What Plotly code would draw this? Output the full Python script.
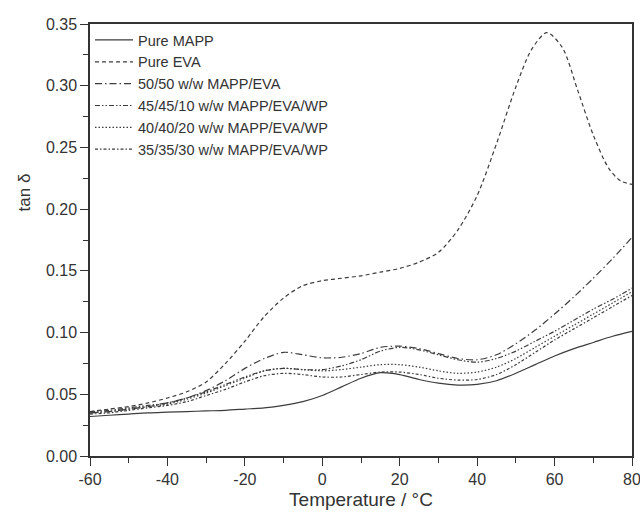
import plotly.graph_objects as go

# ---- data ----
temp = [-60, -55, -50, -45, -40, -35, -30, -25, -20, -15, -10, -5, 0, 5, 10,
        15, 20, 25, 30, 35, 40, 45, 50, 55, 60, 65, 70, 75, 80]

pure_mapp = [0.032, 0.033, 0.034, 0.035, 0.0355, 0.036, 0.0365, 0.037, 0.038, 0.039,
             0.041, 0.044, 0.049, 0.056, 0.063, 0.0675, 0.066, 0.062, 0.059, 0.0575,
             0.058, 0.061, 0.067, 0.074, 0.081, 0.087, 0.092, 0.097, 0.101]

eva_temp = [-60, -55, -50, -45, -40, -35, -30, -25, -20, -15, -10, -5, 0, 5, 10, 15,
            20, 25, 30, 35, 40, 45, 50, 54, 58, 62, 66, 70, 74, 77, 80]
pure_eva = [0.036, 0.038, 0.040, 0.043, 0.047, 0.052, 0.060, 0.075, 0.093, 0.113,
            0.128, 0.138, 0.142, 0.144, 0.146, 0.149, 0.152, 0.157, 0.165, 0.183,
            0.211, 0.253, 0.299, 0.329, 0.343, 0.331, 0.296, 0.260, 0.233, 0.223, 0.220]

mapp_eva_50 = [0.035, 0.036, 0.038, 0.040, 0.043, 0.047, 0.053, 0.061, 0.071, 0.079,
               0.084, 0.082, 0.0795, 0.080, 0.083, 0.088, 0.089, 0.087, 0.083, 0.079,
               0.078, 0.082, 0.091, 0.102, 0.115, 0.129, 0.144, 0.160, 0.177]

wp_10 = [0.036, 0.037, 0.039, 0.041, 0.043, 0.047, 0.052, 0.058, 0.064, 0.069,
         0.071, 0.070, 0.070, 0.073, 0.078, 0.085, 0.088, 0.086, 0.082, 0.078,
         0.076, 0.079, 0.085, 0.093, 0.101, 0.110, 0.119, 0.127, 0.136]

wp_20 = [0.035, 0.036, 0.038, 0.040, 0.042, 0.046, 0.051, 0.057, 0.063, 0.069,
         0.071, 0.070, 0.069, 0.070, 0.072, 0.074, 0.074, 0.072, 0.069, 0.067,
         0.068, 0.072, 0.079, 0.088, 0.097, 0.106, 0.115, 0.124, 0.133]

wp_30 = [0.034, 0.035, 0.037, 0.039, 0.041, 0.044, 0.049, 0.054, 0.060, 0.065,
         0.067, 0.066, 0.064, 0.064, 0.066, 0.068, 0.068, 0.066, 0.063, 0.0615,
         0.062, 0.066, 0.074, 0.084, 0.094, 0.103, 0.112, 0.121, 0.130]

names = ["Pure MAPP", "Pure EVA", "50/50 w/w MAPP/EVA", "45/45/10 w/w MAPP/EVA/WP",
         "40/40/20 w/w MAPP/EVA/WP", "35/35/30 w/w MAPP/EVA/WP"]

x_tickvals = [-60, -40, -20, 0, 20, 40, 60, 80]
x_ticktext = ["-60", "-40", "-20", "0", "20", "40", "60", "80"]
y_tickvals = [0.00, 0.05, 0.10, 0.15, 0.20, 0.25, 0.30, 0.35]
y_ticktext = ["0.00", "0.05", "0.10", "0.15", "0.20", "0.25", "0.30", "0.35"]

# ---- figure ----
series = [
    (temp, pure_mapp, "solid"),
    (eva_temp, pure_eva, "4px,3px"),
    (temp, mapp_eva_50, "7px,3px,1.5px,3px"),
    (temp, wp_10, "5px,2px,1.5px,2px,1.5px,2px"),
    (temp, wp_20, "1.5px,2px"),
    (temp, wp_30, "3px,2px,1.5px,2px"),
]

fig = go.Figure()
for (xs, ys, dash), name in zip(series, names):
    fig.add_trace(go.Scatter(
        x=xs, y=ys, mode="lines", name=name,
        line=dict(color="#3c3c3c", width=1.2, dash=dash, shape="spline", smoothing=0.8),
    ))

font_family = "Liberation Sans, Arial, sans-serif"
axis_common = dict(
    showline=True, linecolor="#333333", linewidth=1.5, mirror=True,
    ticks="outside", ticklen=8, tickwidth=1.3, tickcolor="#333333",
    showgrid=False, zeroline=False, automargin=False,
    tickfont=dict(family=font_family, size=16, color="#333333"),
    ticklabeloverflow="allow",
)

fig.update_xaxes(
    range=[-60, 80], tickmode="array", tickvals=x_tickvals, ticktext=x_ticktext,
    minor=dict(ticks="outside", ticklen=5, tickwidth=1.2, tickcolor="#333333", dtick=10, tick0=-60),
    title=dict(text="Temperature / °C", font=dict(family=font_family, size=19, color="#333333"),
               standoff=6),
    **axis_common,
)
fig.update_yaxes(
    range=[0, 0.35], tickmode="array", tickvals=y_tickvals, ticktext=y_ticktext,
    minor=dict(ticks="outside", ticklen=5, tickwidth=1.2, tickcolor="#333333", dtick=0.025, tick0=0),
    **axis_common,
)

fig.add_annotation(
    text="tan δ", textangle=-90, xref="paper", yref="paper",
    x=-0.12, y=0.61, xanchor="center", yanchor="middle", showarrow=False,
    font=dict(family=font_family, size=17, color="#333333"),
)

fig.update_layout(
    width=640, height=518,
    margin=dict(l=90, r=8, t=24, b=62),
    paper_bgcolor="white", plot_bgcolor="white",
    showlegend=True,
    legend=dict(
        x=0.0, y=1.0, xanchor="left", yanchor="top",
        bgcolor="rgba(0,0,0,0)", borderwidth=0,
        font=dict(family=font_family, size=14.5, color="#333333"),
        tracegroupgap=0, itemwidth=38,
    ),
)

fig.write_html(
    "out.html",
    config={"displayModeBar": False},
    post_script="document.body.style.margin='0';document.body.style.overflow='hidden';",
)
